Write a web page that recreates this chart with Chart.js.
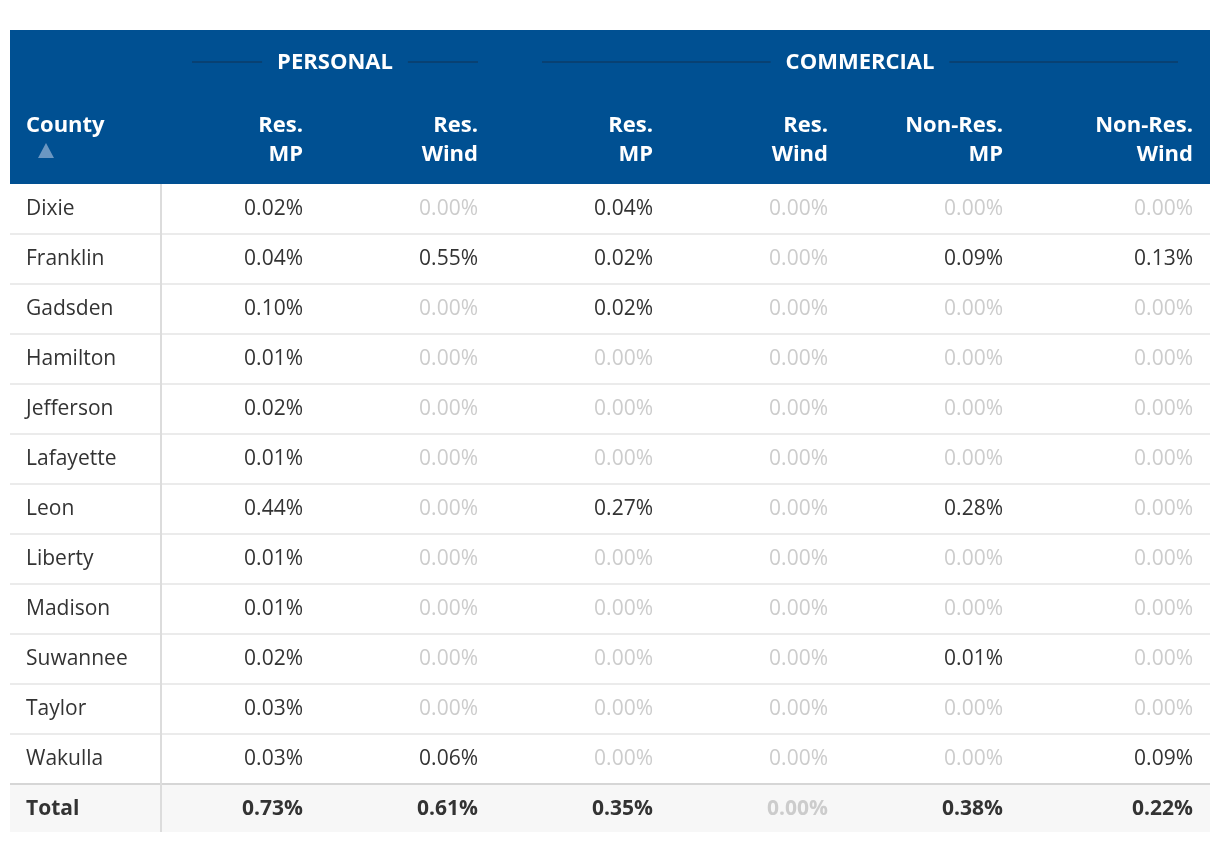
<!DOCTYPE html>
<html>
<head>
<meta charset="utf-8">
<script src="https://cdn.jsdelivr.net/npm/chart.js@4/dist/chart.umd.min.js"></script>
<style>
    html, body { margin: 0; padding: 0; background: #fff; }
</style>
</head>
<body>
<canvas id="rateTable" width="1220" height="842"></canvas>
<script>
// table data
const counties = [
    "Dixie", "Franklin", "Gadsden", "Hamilton", "Jefferson", "Lafayette",
    "Leon", "Liberty", "Madison", "Suwannee", "Taylor", "Wakulla",
];
const rowLabels = counties.concat(["Total"]);
const columnKeys = ["pResMP", "pResWind", "cResMP", "cResWind", "cNonResMP", "cNonResWind"];
const columnHeaders = [
    ["Res.", "MP"], ["Res.", "Wind"],
    ["Res.", "MP"], ["Res.", "Wind"], ["Non-Res.", "MP"], ["Non-Res.", "Wind"],
];
const groupLabels = ["PERSONAL", "COMMERCIAL"];
const groupSpans = [[0, 1], [2, 5]];

const personalResMP = [0.02, 0.04, 0.10, 0.01, 0.02, 0.01, 0.44, 0.01, 0.01, 0.02, 0.03, 0.03];
const personalResWind = [0.00, 0.55, 0.00, 0.00, 0.00, 0.00, 0.00, 0.00, 0.00, 0.00, 0.00, 0.06];
const commercialResMP = [0.04, 0.02, 0.02, 0.00, 0.00, 0.00, 0.27, 0.00, 0.00, 0.00, 0.00, 0.00];
const commercialResWind = [0.00, 0.00, 0.00, 0.00, 0.00, 0.00, 0.00, 0.00, 0.00, 0.00, 0.00, 0.00];
const commercialNonResMP = [0.00, 0.09, 0.00, 0.00, 0.00, 0.00, 0.28, 0.00, 0.00, 0.01, 0.00, 0.00];
const commercialNonResWind = [0.00, 0.13, 0.00, 0.00, 0.00, 0.00, 0.00, 0.00, 0.00, 0.00, 0.00, 0.09];
const totals = [0.73, 0.61, 0.35, 0.00, 0.38, 0.22];

const columnValues = [
    personalResMP, personalResWind, commercialResMP,
    commercialResWind, commercialNonResMP, commercialNonResWind,
];

const FONT = '"Open Sans", "Noto Sans", sans-serif';
const HEADER_BLUE = "#005092";
const TABLE_LEFT = 10;
const HEADER_TOP = 30;

const datasets = columnKeys.map(function (key, c) {
    const vals = columnValues[c].concat([totals[c]]);
    return {
        label: key,
        data: rowLabels.map(function (r, i) {
            return { x: key, y: r, v: vals[i] };
        }),
        pointRadius: 0,
        pointHoverRadius: 0,
    };
});

function cellPad(c) {
    return c === columnKeys.length - 1 ? 17 : 32;
}

const tablePlugin = {
    id: "tablePlugin",
    beforeDraw: function (chart) {
        const ctx = chart.ctx;
        const area = chart.chartArea;
        const xs = chart.scales.x;
        const ys = chart.scales.y;
        const bandW = xs.getPixelForValue(1) - xs.getPixelForValue(0);
        const bandH = ys.getPixelForValue(1) - ys.getPixelForValue(0);
        const right = area.right;
        const lastRow = rowLabels.length - 1;

        ctx.save();
        // header band
        ctx.fillStyle = HEADER_BLUE;
        ctx.fillRect(TABLE_LEFT, HEADER_TOP, right - TABLE_LEFT, area.top - HEADER_TOP);

        // total row background
        const totalTop = ys.getPixelForValue(lastRow) - bandH / 2;
        ctx.fillStyle = "#f7f7f7";
        ctx.fillRect(TABLE_LEFT, totalTop, right - TABLE_LEFT, bandH - 2);

        // row separators
        for (let i = 1; i <= lastRow; i++) {
            const y = ys.getPixelForValue(i) - bandH / 2;
            ctx.beginPath();
            ctx.strokeStyle = i === lastRow ? "#d6d6d6" : "#ebebeb";
            ctx.lineWidth = 2;
            ctx.moveTo(TABLE_LEFT, y);
            ctx.lineTo(right, y);
            ctx.stroke();
        }

        // county column divider
        ctx.beginPath();
        ctx.strokeStyle = "#dcdcdc";
        ctx.lineWidth = 2;
        ctx.moveTo(area.left + 1, area.top);
        ctx.lineTo(area.left + 1, area.bottom - 2);
        ctx.stroke();

        // group headers
        ctx.textBaseline = "middle";
        ctx.textAlign = "center";
        ctx.font = "bold 22px " + FONT;
        groupLabels.forEach(function (g, k) {
            const x0 = xs.getPixelForValue(groupSpans[k][0]) - bandW / 2 + 32;
            const x1 = xs.getPixelForValue(groupSpans[k][1]) + bandW / 2 - 32;
            const mid = (xs.getPixelForValue(groupSpans[k][0]) - bandW / 2 +
                xs.getPixelForValue(groupSpans[k][1]) + bandW / 2) / 2;
            const w = ctx.measureText(g).width;
            ctx.fillStyle = "#ffffff";
            ctx.fillText(g, mid, 63);
            ctx.beginPath();
            ctx.strokeStyle = "#0b3c69";
            ctx.lineWidth = 1.5;
            ctx.moveTo(x0, 62);
            ctx.lineTo(mid - w / 2 - 15, 62);
            ctx.moveTo(mid + w / 2 + 15, 62);
            ctx.lineTo(x1, 62);
            ctx.stroke();
        });

        // column headers
        ctx.textAlign = "right";
        ctx.fillStyle = "#ffffff";
        columnHeaders.forEach(function (lines, c) {
            const x = xs.getPixelForValue(c) + bandW / 2 - cellPad(c);
            ctx.fillText(lines[0], x, 126);
            ctx.fillText(lines[1], x, 155);
        });
        ctx.textAlign = "left";
        ctx.fillText("County", 26, 126);

        // sort arrow
        ctx.beginPath();
        ctx.fillStyle = "#6b97c2";
        ctx.moveTo(38, 158);
        ctx.lineTo(54, 158);
        ctx.lineTo(46, 143);
        ctx.closePath();
        ctx.fill();

        // county names
        ctx.fillStyle = "#333333";
        rowLabels.forEach(function (r, i) {
            ctx.font = (i === lastRow ? "bold " : "") + "21px " + FONT;
            ctx.fillText(r, 26, ys.getPixelForValue(i));
        });
        ctx.restore();
    },
    afterDatasetsDraw: function (chart) {
        const ctx = chart.ctx;
        const xs = chart.scales.x;
        const bandW = xs.getPixelForValue(1) - xs.getPixelForValue(0);
        const lastRow = rowLabels.length - 1;
        ctx.save();
        ctx.textAlign = "right";
        ctx.textBaseline = "middle";
        chart.data.datasets.forEach(function (ds, c) {
            const meta = chart.getDatasetMeta(c);
            meta.data.forEach(function (pt, i) {
                const v = ds.data[i].v;
                ctx.font = (i === lastRow ? "bold " : "") + "21px " + FONT;
                ctx.fillStyle = v === 0 ? "#cccccc" : "#333333";
                ctx.fillText(v.toFixed(2) + "%", pt.x + bandW / 2 - cellPad(c), pt.y);
            });
        });
        ctx.restore();
    },
};

new Chart(document.getElementById("rateTable").getContext("2d"), {
    type: "scatter",
    data: { datasets: datasets },
    options: {
        responsive: false,
        animation: false,
        layout: { padding: { left: 160, right: 10, top: 184, bottom: 8 } },
        plugins: { legend: { display: false }, tooltip: { enabled: false } },
        scales: {
            x: { type: "category", labels: columnKeys, offset: true, display: false },
            y: { type: "category", labels: rowLabels, offset: true, display: false },
        },
    },
    plugins: [tablePlugin],
});
</script>
</body>
</html>
